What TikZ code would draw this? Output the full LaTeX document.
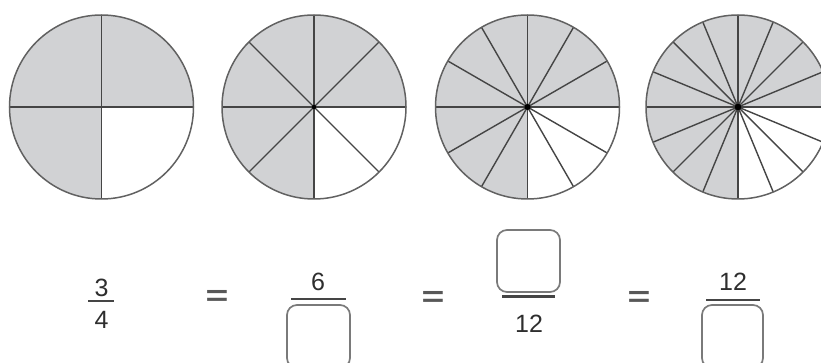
\documentclass[tikz,border=0pt]{standalone}
\usepackage{fontspec}
\setmainfont{Liberation Sans}
\definecolor{shadegray}{HTML}{D1D2D4}
\definecolor{linegray}{HTML}{454545}
\definecolor{boxgray}{HTML}{7A7A7A}
\definecolor{txtgray}{HTML}{2E2E2E}
\tikzset{
  sector/.style={draw=linegray, line width=1.4pt},
  rim/.style={draw=linegray!85, line width=1.5pt},
  fracbar/.style={draw=linegray, line width=2.8pt},
  answerbox/.style={draw=boxgray, line width=1.7pt, rounded corners=10pt},
  num/.style={inner sep=0pt, text=txtgray, font=\fontsize{25}{25}\selectfont},
  eqsign/.style={inner sep=0pt, text=linegray!90, font=\fontsize{34}{34}\selectfont\bfseries},
}
\begin{document}
\begin{tikzpicture}[x=1pt,y=-1pt]
\useasboundingbox (0,0) rectangle (821,363);
\clip (0,0) rectangle (821,363);
\fill[white] (0,0) rectangle (821,363);
\def\R{92}
\coordinate (c1) at (101.5,107);
\coordinate (c2) at (314,107);
\coordinate (c3) at (527.5,107);
\coordinate (c4) at (738,107);
\foreach \c/\n in {c1/4, c2/8, c3/12, c4/16}{
  \fill[shadegray] (\c) -- +(90:\R) arc[start angle=90, end angle=360, radius=\R] -- cycle;
  \pgfmathsetmacro\stp{360/\n}
  \foreach \k in {1,...,\n}{
    \draw[sector] (\c) -- +({\k*\stp}:\R);
  }
  \draw[rim] (\c) circle[radius=\R];
}
\fill[black] (c2) circle[radius=2.2];
\fill[black] (c3) circle[radius=3];
\fill[black] (c4) circle[radius=3.3];
\node[num] (n1) at (101.5,288) {3};
\node[num] (d1) at (101.5,320) {4};
\draw[fracbar] (88,301) -- (114,301);
\node[eqsign] (e1) at (217,298) {\scalebox{1.15}[0.85]{=}};
\node[num] (n2) at (318,282) {6};
\draw[fracbar] (291,299) -- (346,299);
\draw[answerbox] (287,305) rectangle (350,368);
\node[eqsign] (e2) at (433,299) {\scalebox{1.15}[0.85]{=}};
\draw[answerbox] (497,230) rectangle (560,292);
\draw[fracbar] (502,296.5) -- (555,296.5);
\node[num] (d3) at (529,324) {12};
\node[eqsign] (e3) at (639,299) {\scalebox{1.15}[0.85]{=}};
\node[num] (n4) at (733,282) {12};
\draw[fracbar] (706,300) -- (760,300);
\draw[answerbox] (702,305) rectangle (763,368);
\end{tikzpicture}
\end{document}
